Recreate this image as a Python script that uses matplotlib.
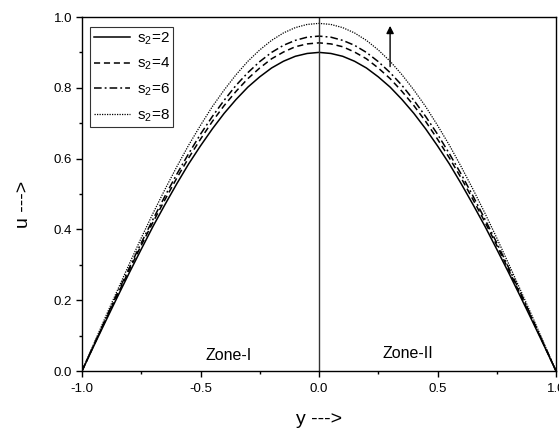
import matplotlib
matplotlib.use("Agg")
import matplotlib.pyplot as plt
from matplotlib.ticker import MultipleLocator

plt.rcParams['font.family'] = ['Liberation Sans', 'DejaVu Sans']
plt.rcParams['mathtext.fontset'] = 'custom'
plt.rcParams['mathtext.rm'] = 'Liberation Sans'
plt.rcParams['mathtext.it'] = 'Liberation Sans'

y_vals = [-1.00, -0.95, -0.90, -0.85, -0.80, -0.75, -0.70, -0.65, -0.60, -0.55,
          -0.50, -0.45, -0.40, -0.35, -0.30, -0.25, -0.20, -0.15, -0.10, -0.05,
          0.00, 0.05, 0.10, 0.15, 0.20, 0.25, 0.30, 0.35, 0.40, 0.45,
          0.50, 0.55, 0.60, 0.65, 0.70, 0.75, 0.80, 0.85, 0.90, 0.95, 1.00]

u_s2_2 = [0.000, 0.071, 0.141, 0.210, 0.278, 0.344, 0.409, 0.470, 0.529, 0.585,
          0.636, 0.684, 0.728, 0.767, 0.802, 0.831, 0.856, 0.875, 0.889, 0.897,
          0.900, 0.897, 0.889, 0.875, 0.856, 0.831, 0.802, 0.767, 0.728, 0.684,
          0.636, 0.585, 0.529, 0.470, 0.409, 0.344, 0.278, 0.210, 0.141, 0.071, 0.000]

u_s2_4 = [0.000, 0.073, 0.145, 0.216, 0.286, 0.355, 0.421, 0.484, 0.545, 0.602,
          0.655, 0.705, 0.750, 0.790, 0.826, 0.856, 0.882, 0.901, 0.916, 0.924,
          0.927, 0.924, 0.916, 0.901, 0.882, 0.856, 0.826, 0.790, 0.750, 0.705,
          0.655, 0.602, 0.545, 0.484, 0.421, 0.355, 0.286, 0.216, 0.145, 0.073, 0.000]

u_s2_6 = [0.000, 0.074, 0.148, 0.221, 0.292, 0.362, 0.429, 0.494, 0.556, 0.614,
          0.669, 0.719, 0.765, 0.807, 0.843, 0.874, 0.900, 0.920, 0.934, 0.943,
          0.946, 0.943, 0.934, 0.920, 0.900, 0.874, 0.843, 0.807, 0.765, 0.719,
          0.669, 0.614, 0.556, 0.494, 0.429, 0.362, 0.292, 0.221, 0.148, 0.074, 0.000]

u_s2_8 = [0.000, 0.077, 0.154, 0.229, 0.303, 0.376, 0.446, 0.513, 0.577, 0.638,
          0.694, 0.747, 0.794, 0.837, 0.875, 0.907, 0.934, 0.955, 0.970, 0.979,
          0.982, 0.979, 0.970, 0.955, 0.934, 0.907, 0.875, 0.837, 0.794, 0.747,
          0.694, 0.638, 0.577, 0.513, 0.446, 0.376, 0.303, 0.229, 0.154, 0.077, 0.000]

labels = [r'$\mathregular{s_2}$=2', r'$\mathregular{s_2}$=4',
          r'$\mathregular{s_2}$=6', r'$\mathregular{s_2}$=8']
zone_labels = ['Zone-I', 'Zone-II']

fig = plt.figure(figsize=(5.59, 4.29), dpi=100)
ax = fig.add_axes([82/559, 1 - 371/429, (556 - 82)/559, (371 - 17)/429])

lw = 1.1
ax.plot(y_vals, u_s2_2, color='black', lw=lw, ls='-', label=labels[0])
ax.plot(y_vals, u_s2_4, color='black', lw=lw, ls=(0, (4, 2.5)), label=labels[1])
ax.plot(y_vals, u_s2_6, color='black', lw=lw, ls=(0, (5, 2, 1.2, 2)), label=labels[2])
ax.plot(y_vals, u_s2_8, color='black', lw=0.9, ls=(0, (1, 1)), label=labels[3])

ax.axvline(0.0, color='#333333', lw=1.0)

ax.annotate('', xy=(0.30, 0.975), xytext=(0.30, 0.86),
            arrowprops=dict(arrowstyle='-|>', color='black', lw=1.0,
                            mutation_scale=11, shrinkA=0, shrinkB=0))

ax.text(-0.38, 0.045, zone_labels[0], ha='center', va='center', fontsize=11.5)
ax.text(0.376, 0.05, zone_labels[1], ha='center', va='center', fontsize=11.5)

ax.set_xlim(-1.0, 1.0)
ax.set_ylim(0.0, 1.0)
ax.xaxis.set_major_locator(MultipleLocator(0.5))
ax.xaxis.set_minor_locator(MultipleLocator(0.25))
ax.yaxis.set_major_locator(MultipleLocator(0.2))
ax.yaxis.set_minor_locator(MultipleLocator(0.1))
ax.set_xticks([-1.0, -0.5, 0.0, 0.5, 1.0])
ax.set_xticklabels(['-1.0', '-0.5', '0.0', '0.5', '1.0'])
ax.set_yticks([0.0, 0.2, 0.4, 0.6, 0.8, 1.0])
ax.set_yticklabels(['0.0', '0.2', '0.4', '0.6', '0.8', '1.0'])

ax.tick_params(axis='y', which='major', direction='out', length=4, width=1,
               labelsize=9.5, colors='black', pad=3, right=False)
ax.tick_params(axis='x', which='major', direction='out', length=4, width=1,
               labelsize=9.5, colors='black', pad=5, top=False)
ax.tick_params(which='minor', direction='out', length=2.5, width=1,
               top=False, right=False)
for sp in ax.spines.values():
    sp.set_linewidth(1.0)
    sp.set_color('black')

ax.set_xlabel('y --->', fontsize=14, labelpad=11)
ax.set_ylabel('u --->', fontsize=14, labelpad=16)
ax.yaxis.label.set_y(0.47)

leg = ax.legend(loc='upper left', bbox_to_anchor=(8/474, 1 - 9.7/354),
                borderaxespad=0, fontsize=11, frameon=True, fancybox=False,
                edgecolor='black', handlelength=2.4, handletextpad=0.4,
                labelspacing=0.6, borderpad=0.25)
leg.get_frame().set_linewidth(0.8)

fig.savefig('out.png', dpi=100)
